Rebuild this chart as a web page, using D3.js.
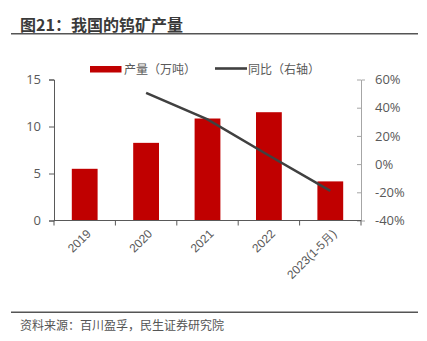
<!DOCTYPE html>
<html><head><meta charset="utf-8">
<script src="https://cdn.jsdelivr.net/npm/d3@7"></script>
<style>
html,body{margin:0;padding:0;background:#fff;}
svg{display:block;font-family:"Noto Sans CJK SC","Noto Sans",sans-serif;}
</style></head>
<body>
<script>
const categories = ["2019","2020","2021","2022","2023(1-5月)"];
const output = [5.5, 8.26, 10.85, 11.52, 4.16];
const yoy = [null, 50.5, 31.7, 6.1, -19.0];
const leftTicks = [0,5,10,15];
const rightTicks = [-40,-20,0,20,40,60];
const title = "图21：我国的钨矿产量";
const source = "资料来源：百川盈孚，民生证券研究院";
const legendLabels = ["产量（万吨）","同比（右轴）"];

const W=427,H=341;
const svg=d3.select("body").append("svg").attr("width",W).attr("height",H);
const m={l:54,r:361,t:79.5,b:220.5};

svg.append("text").attr("x",20).attr("y",31).attr("font-size",16).attr("font-weight","bold")
  .attr("fill","#3a3a3a").text(title);
svg.append("line").attr("x1",11).attr("x2",418).attr("y1",33.8).attr("y2",33.8).attr("stroke","#555").attr("stroke-width",1.5);
svg.append("line").attr("x1",11).attr("x2",418).attr("y1",312.3).attr("y2",312.3).attr("stroke","#555").attr("stroke-width",1.5);
svg.append("text").attr("x",20).attr("y",330).attr("font-size",12).attr("fill","#555").text(source);

const x=d3.scaleBand().domain(categories).range([m.l,m.r]).paddingInner(0.585).paddingOuter(0.2925);
const xb=d3.scaleBand().domain(categories).range([m.l,m.r]);
const yL=d3.scaleLinear().domain([0,15]).range([m.b,m.t]);
const yR=d3.scaleLinear().domain([-40,60]).range([m.b,m.t]);

svg.selectAll("rect.bar").data(output).enter().append("rect").attr("class","bar")
  .attr("x",(d,i)=>xb(categories[i])+xb.bandwidth()/2-12.9).attr("width",25.8)
  .attr("y",d=>yL(d)).attr("height",d=>yL(0)-yL(d)).attr("fill","#c00000");

// left axis
const gL=svg.append("g").attr("transform",`translate(${m.l},0)`)
  .call(d3.axisLeft(yL).tickValues(leftTicks).tickSize(5).tickPadding(8));
gL.select(".domain").attr("stroke","#595959");
gL.selectAll(".tick line").attr("stroke","#595959");
gL.selectAll("text").attr("font-size",13).attr("fill","#595959").attr("font-family","Open Sans,sans-serif");

// right axis
const gR=svg.append("g").attr("transform",`translate(${m.r},0)`)
  .call(d3.axisRight(yR).tickValues(rightTicks).tickFormat(d=>d+"%").tickSize(4).tickPadding(10));
gR.select(".domain").attr("stroke","#a6a6a6");
gR.selectAll(".tick line").attr("stroke","#a6a6a6").attr("x1",-4).attr("x2",0);
gR.selectAll("text").attr("font-size",13).attr("fill","#595959").attr("font-family","Open Sans,sans-serif");

// bottom axis
const gB=svg.append("g").attr("transform",`translate(0,${m.b})`)
  .call(d3.axisBottom(xb).tickSize(0).tickFormat(""));
gB.select(".domain").attr("stroke","#595959").attr("d",`M${m.l},0H${m.r}`);
const bounds=categories.map(c=>xb(c)).concat([m.r]);
gB.selectAll("line.tk").data(bounds).enter().append("line").attr("class","tk")
  .attr("x1",d=>d).attr("x2",d=>d).attr("y1",0).attr("y2",5).attr("stroke","#595959");
gB.selectAll("text.lbl").data(categories).enter().append("text").attr("class","lbl")
  .attr("transform",d=>`translate(${xb(d)+xb.bandwidth()/2+4},${11}) rotate(-45)`)
  .attr("text-anchor","end").attr("dy","0.35em").attr("font-size",12).attr("fill","#595959").text(d=>d);

// line
const line=d3.line().defined(d=>d!=null).x((d,i)=>xb(categories[i])+xb.bandwidth()/2).y(d=>yR(d));
svg.append("path").datum(yoy).attr("d",line).attr("fill","none").attr("stroke","#404040").attr("stroke-width",2.6);

// legend
svg.append("rect").attr("x",90).attr("y",66).attr("width",31.5).attr("height",6.5).attr("fill","#c00000");
svg.append("text").attr("x",124).attr("y",73.5).attr("font-size",12).attr("fill","#595959").text(legendLabels[0]);
svg.append("line").attr("x1",215).attr("x2",247).attr("y1",68.5).attr("y2",68.5).attr("stroke","#404040").attr("stroke-width",2.6);
svg.append("text").attr("x",248).attr("y",73.5).attr("font-size",12).attr("fill","#595959").text(legendLabels[1]);
</script>
</body></html>
